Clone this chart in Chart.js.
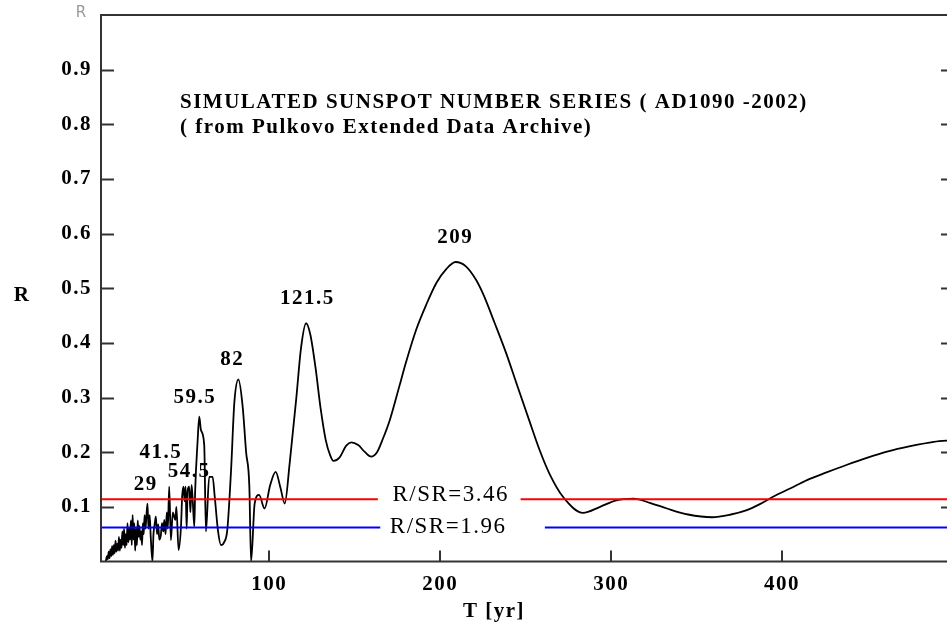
<!DOCTYPE html>
<html>
<head>
<meta charset="utf-8">
<script src="https://cdn.jsdelivr.net/npm/chart.js@4"></script>
<style>
  html, body { margin: 0; padding: 0; background: #fff; overflow: hidden; }
</style>
</head>
<body>
<canvas id="chart" width="960" height="634"></canvas>
<script>
// periods (yr) and normalised amplitudes
const periods = [
  4.3, 5, 5.5, 6, 6.5, 7, 7.5, 8, 8.5, 9, 9.5, 10, 10.5, 11, 11.5, 12, 12.5, 13, 13.5, 14,
  14.5, 15, 15.5, 16, 16.5, 17, 17.5, 18, 18.5, 19, 19.5, 20, 20.5, 21, 21.5, 22, 22.5, 23,
  23.5, 24, 24.5, 25, 25.5, 26, 26.5, 27, 27.5, 28, 28.7, 29.3, 30, 30.6, 31.6, 32.2, 33,
  33.6, 34.3, 35, 35.6, 36.5, 37.2, 38, 38.5, 39.3, 40, 40.6, 41.4, 42.4, 43.5, 45, 45.6,
  46.9, 48.3, 49, 49.8, 50.4, 51, 51.6, 52.2, 53.1, 53.8, 54.5, 55.2, 56.1, 56.6, 58, 59,
  60, 61.9, 62.9, 64.8, 66.8, 68, 70, 71.7, 73.5, 75.4, 77.6, 79.5, 81.9, 84.4, 86.4, 88.3,
  89.3, 91.4, 94, 97.2, 100.5, 103.7, 106.5, 109, 111.9, 115.8, 118.5, 121.5, 124, 127, 130,
  133, 135.5, 137.5, 141, 145, 148, 152, 156, 159.5, 163, 166.5, 170.5, 176, 180, 186, 191.8,
  197.8, 203.5, 209, 215, 221, 225, 232, 238.7, 244.7, 252.4, 258, 264, 271.9, 283.5, 293.5,
  303, 313, 323, 332.6, 345, 359, 370, 379.4, 387, 395, 405, 414.6, 426, 438, 450, 461.4,
  475, 488.8, 500
];
const amplitudes = [
  0, 0.01, 0.004, 0.018, 0.006, 0.022, 0.01, 0.028, 0.012, 0.03, 0.015, 0.038, 0.018, 0.032, 0.02, 0.045, 0.02, 0.04, 0.025, 0.055,
  0.03, 0.06, 0.025, 0.05, 0.03, 0.07, 0.035, 0.06, 0.04, 0.075, 0.03, 0.085, 0.04, 0.07, 0.02, 0.06, 0.03, 0.075,
  0.045, 0.065, 0.04, 0.055, 0.03, 0.07, 0.05, 0.085, 0.06, 0.08, 0.106, 0.06, 0.085, 0.045, 0, 0.05, 0.07,
  0.082, 0.05, 0.068, 0.04, 0.048, 0.07, 0.055, 0.076, 0.05, 0.09, 0.06, 0.137, 0.039, 0.09, 0.076, 0.1,
  0.021, 0.064, 0.12, 0.137, 0.11, 0.137, 0.06, 0.13, 0.137, 0.09, 0.14, 0.11, 0.064, 0.13, 0.219, 0.265,
  0.24, 0.213, 0.055, 0.155, 0.155, 0.12, 0.055, 0.03, 0.035, 0.058, 0.167, 0.29, 0.333, 0.283, 0.2, 0.137,
  0, 0.106, 0.122, 0.097, 0.14, 0.164, 0.135, 0.106, 0.18, 0.30, 0.39, 0.436, 0.415, 0.355, 0.28,
  0.222, 0.195, 0.184, 0.19, 0.212, 0.218, 0.213, 0.2, 0.192, 0.2, 0.225, 0.259, 0.32, 0.365, 0.425, 0.47,
  0.51, 0.535, 0.548, 0.54, 0.515, 0.49, 0.435, 0.38, 0.325, 0.255, 0.205, 0.16, 0.118, 0.089, 0.1,
  0.112, 0.115, 0.107, 0.097, 0.086, 0.081, 0.086, 0.094, 0.105, 0.119, 0.134, 0.149, 0.163, 0.177, 0.19, 0.201,
  0.211, 0.219, 0.222
];

const yTicks = [0.1, 0.2, 0.3, 0.4, 0.5, 0.6, 0.7, 0.8, 0.9];
const xTicks = [100, 200, 300, 400];

// significance levels and where their captions interrupt them
const level346 = 0.114, gap346 = [163.5, 247];
const level196 = 0.062, gap196 = [164.9, 261.2];

const peakNames = ['29', '41.5', '54.5', '59.5', '82', '121.5', '209'];
const peakAt = [[27.7, 0.141], [36.6, 0.199], [53.1, 0.165], [56.4, 0.300], [78.3, 0.369], [122.3, 0.482], [208.8, 0.592]];

const SERIF = '"Liberation Serif", "Times New Roman", serif';

function levelLine(level, gap) {
  return [
    { x: 1.5, y: level }, { x: gap[0], y: level },
    { x: (gap[0] + gap[1]) / 2, y: null },
    { x: gap[1], y: level }, { x: 500, y: level }
  ];
}

const frame = {
  id: 'frame',
  beforeDraw(chart) { chart.ctx.letterSpacing = '1.5px'; },
  afterDraw(chart) {
    const { ctx, chartArea: a, scales: { x, y } } = chart;
    ctx.save();
    ctx.strokeStyle = '#333';
    ctx.lineWidth = 2;
    ctx.strokeRect(a.left, a.top, a.right - a.left, a.bottom - a.top);
    ctx.beginPath();
    yTicks.forEach(v => {
      const py = Math.round(y.getPixelForValue(v)) + 0.5;
      ctx.moveTo(a.left, py); ctx.lineTo(a.left + 13, py);
      ctx.moveTo(a.right, py); ctx.lineTo(a.right - 12, py);
    });
    xTicks.forEach(v => {
      const px = Math.round(x.getPixelForValue(v));
      ctx.moveTo(px, a.bottom); ctx.lineTo(px, a.bottom - 11);
    });
    ctx.stroke();

    ctx.fillStyle = '#000';
    ctx.textBaseline = 'middle';
    ctx.font = 'bold 21px ' + SERIF;
    ctx.letterSpacing = '1.5px';
    ctx.textAlign = 'center';
    peakNames.forEach((t, i) => {
      ctx.fillText(t, x.getPixelForValue(peakAt[i][0]), y.getPixelForValue(peakAt[i][1]));
    });
    ctx.fillText('R', 22, 296);
    ctx.fillText('T [yr]', 494, 612);

    ctx.textAlign = 'left';
    ctx.fillText('SIMULATED SUNSPOT NUMBER SERIES ( AD1090 -2002)', 180, 103);
    ctx.fillText('( from Pulkovo Extended Data Archive)', 180, 128);

    ctx.font = '23px ' + SERIF;
    ctx.letterSpacing = '1.5px';
    ctx.textAlign = 'center';
    ctx.fillText('R/SR=3.46', x.getPixelForValue(206.1), y.getPixelForValue(0.122));
    ctx.fillText('R/SR=1.96', x.getPixelForValue(204.6), y.getPixelForValue(0.063));

    ctx.letterSpacing = '0px';
    ctx.font = '15px "DejaVu Sans", sans-serif';
    ctx.fillStyle = '#999';
    ctx.fillText('R', 81, 13);
    ctx.restore();
  }
};

new Chart(document.getElementById('chart'), {
  type: 'line',
  data: {
    datasets: [
      {
        data: levelLine(level346, gap346),
        borderColor: '#ff0000', borderWidth: 2, pointRadius: 0, spanGaps: false
      },
      {
        data: levelLine(level196, gap196),
        borderColor: '#0000ff', borderWidth: 2, pointRadius: 0, spanGaps: false
      },
      {
        data: periods.map((t, i) => ({ x: t, y: amplitudes[i] })),
        borderColor: '#000', borderWidth: 1.8, pointRadius: 0,
        cubicInterpolationMode: 'monotone'
      }
    ]
  },
  options: {
    responsive: false,
    animation: false,
    layout: { padding: { top: 15, right: 7, left: 0, bottom: 0 } },
    plugins: { legend: { display: false }, tooltip: { enabled: false } },
    scales: {
      x: {
        type: 'linear', min: 1.5, max: 500,
        afterBuildTicks: s => { s.ticks = xTicks.map(v => ({ value: v })); },
        afterFit: s => { s.height = 72.5; s.paddingLeft = 0; s.paddingRight = 0; },
        grid: { display: false, drawTicks: false },
        border: { display: false },
        ticks: { color: '#000', padding: 10, font: { family: SERIF, size: 21, weight: 'bold' } }
      },
      y: {
        min: 0, max: 1,
        afterBuildTicks: s => { s.ticks = yTicks.map(v => ({ value: v })); },
        afterFit: s => { s.width = 101; s.paddingTop = 0; s.paddingBottom = 0; },
        grid: { display: false, drawTicks: false },
        border: { display: false },
        ticks: { color: '#000', padding: 9, font: { family: SERIF, size: 21, weight: 'bold' } }
      }
    }
  },
  plugins: [frame]
});
</script>
</body>
</html>
